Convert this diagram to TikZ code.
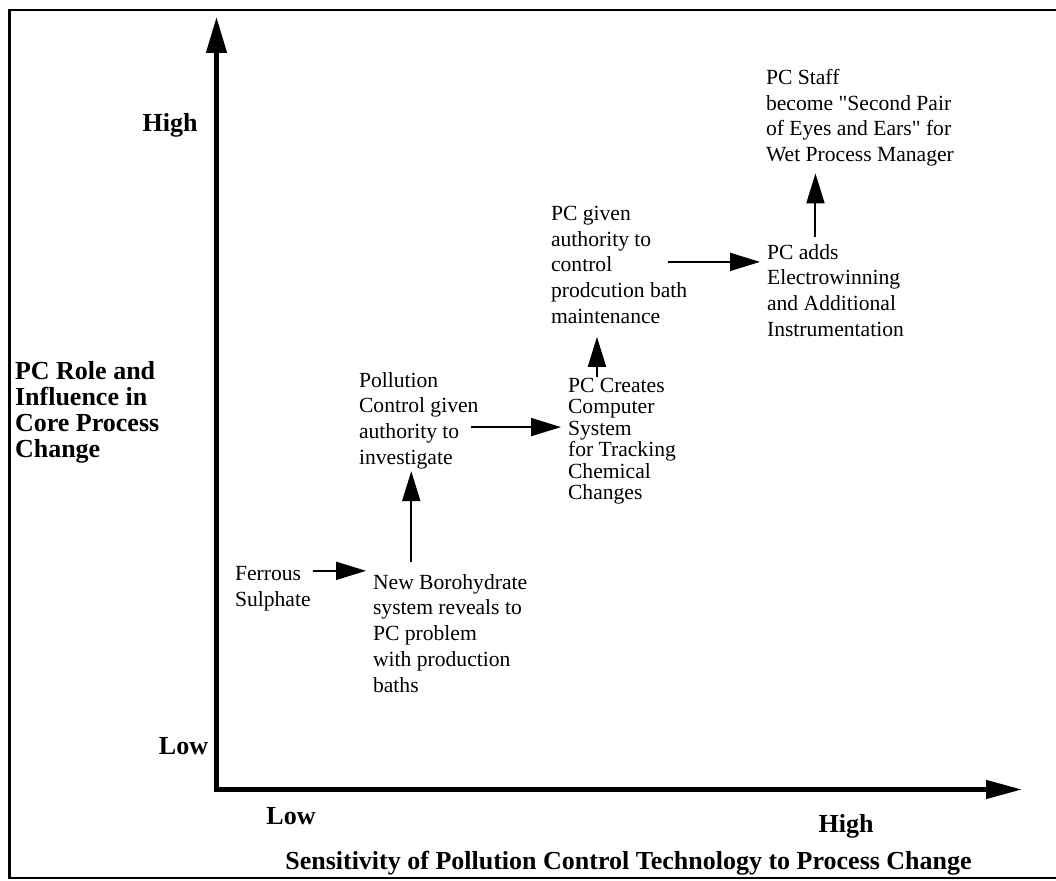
\documentclass[tikz,border=0pt]{standalone}
\usepackage{fontspec}
\setmainfont{Liberation Serif}[Ligatures=TeXOff]
\usetikzlibrary{arrows.meta}

\tikzset{
  note/.style={align=left, anchor=north west, font=\fontsize{10.8}{12.9}\selectfont},
  axislabel/.style={font=\fontsize{13}{13}\selectfont\bfseries, anchor=base},
  conn/.style={line width=1pt, -{Triangle[length=15pt,width=9pt]}},
  axis/.style={line width=2.25pt, line join=miter},
}

\begin{document}
\begin{tikzpicture}[x=0.5pt,y=-0.5pt]
    \useasboundingbox (0,0) rectangle (1056,881);
    % Outer frame (right side runs off the page)
    \draw[line width=1.4pt] (1056,10) -- (9.5,10) -- (9.5,878) -- (1056,878);

    % Axes
    \coordinate (origin) at (216.5,789.5);
    \draw[axis, {Triangle[length=18pt,width=10pt]}-{Triangle[length=18pt,width=9pt]}] (216.5,17) -- (origin) -- (1022,789.5);

    % Axis labels
    \node[axislabel] (yhigh) at (170,132) {High};
    \node[axislabel] (ylow) at (183.5,755) {Low};
    \node[axislabel] (xlow) at (291,825) {Low};
    \node[axislabel] (xhigh) at (846,833) {High};
    \node[axislabel] (xtitle) at (628.5,870) {Sensitivity of Pollution Control Technology to Process Change};
    \node[axislabel, align=left, anchor=north west] (ytitle) at (8,354) {PC Role and\\Influence in\\Core Process\\Change};

    % Stages
    \node[note] (ferrous) at (228,559) {Ferrous\\Sulphate};
    \node[note] (newboro) at (366,567) {New Borohydrate\\system reveals to\\PC problem\\with production\\baths};
    \node[note] (pollution) at (352,365) {Pollution\\Control given\\authority to\\investigate};
    \node[note, font=\fontsize{10.8}{10.75}\selectfont] (pccreates) at (561,371) {PC Creates\\Computer\\System\\for Tracking\\Chemical\\Changes};
    \node[note] (pcgiven) at (544,199) {PC given\\authority to\\control\\prodcution bath\\maintenance};
    \node[note] (pcadds) at (760,237) {PC adds\\Electrowinning\\and Additional\\Instrumentation};
    \node[note] (pcstaff) at (759,62) {PC Staff\\become "Second Pair\\of Eyes and Ears" for\\Wet Process Manager};

    % Progression arrows
    \draw[conn] ([xshift=-2.5pt,yshift=8.75pt]ferrous.east) coordinate (f1) -- (f1 -| newboro.west);
    \draw[conn] ([xshift=-3.75pt,yshift=2.5pt]newboro.north -| pollution.south) -- ([xshift=-3.75pt,yshift=2.5pt]pollution.south);
    \draw[conn] ([xshift=-7.5pt,yshift=-3.25pt]pollution.east) coordinate (f3) -- (f3 -| pccreates.west);
    \draw[conn] ([xshift=-12.5pt,yshift=-3pt]pccreates.north) coordinate (f4) -- ([yshift=-3pt]f4 |- pcgiven.south);
    \draw[conn] ([xshift=-13pt,yshift=1.5pt]pcgiven.east) coordinate (f5) -- (f5 -| pcadds.west);
    \draw[conn] ([xshift=-10pt]pcadds.north) coordinate (f6) -- (f6 |- pcstaff.south);
\end{tikzpicture}
\end{document}
